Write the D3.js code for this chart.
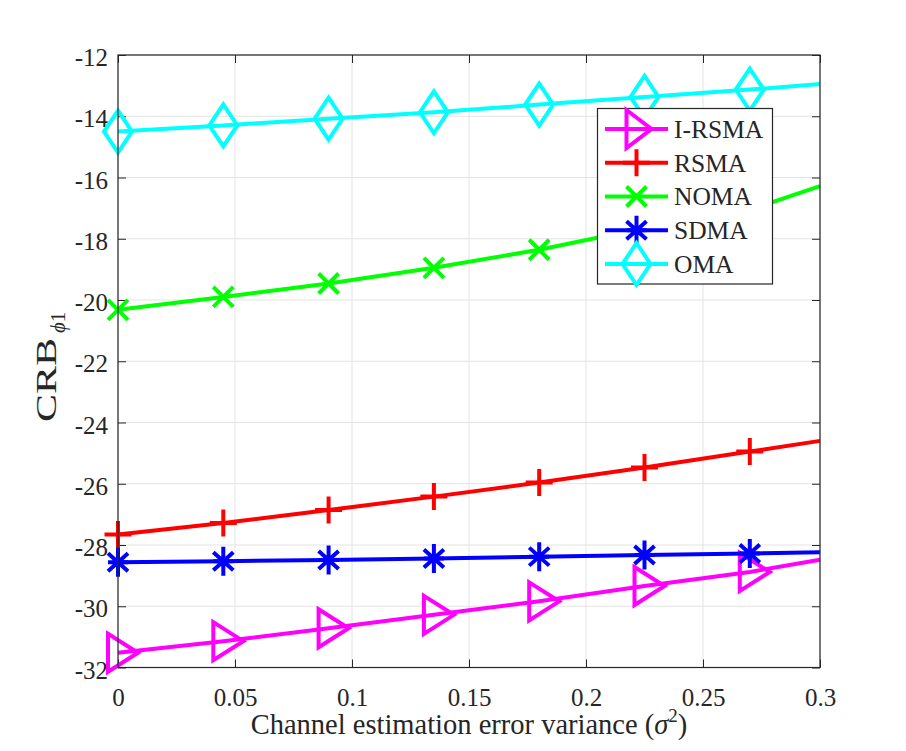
<!DOCTYPE html>
<html>
<head>
<meta charset="utf-8">
<script src="https://cdn.jsdelivr.net/npm/d3@7"></script>
<style>
html,body{margin:0;padding:0;background:#fff;}
text{font-family:"Liberation Serif","Times New Roman",serif;fill:#262626;}
</style>
</head>
<body>
<svg id="chart" width="906" height="751" font-family="Liberation Serif, serif"></svg>
<script>
// ---- data ----
const xValues = [0, 0.045, 0.09, 0.135, 0.18, 0.225, 0.27, 0.3];
const markerCount = 7; // markers on first 7 points
const seriesNames = ["I-RSMA", "RSMA", "NOMA", "SDMA", "OMA"];
const irsma = [-31.52, -31.14, -30.72, -30.28, -29.84, -29.34, -28.88, -28.48];
const rsma  = [-27.66, -27.28, -26.86, -26.42, -25.96, -25.47, -24.95, -24.60];
const noma  = [-20.32, -19.90, -19.46, -18.95, -18.36, -17.65, -17.05, -16.28];
const sdma  = [-28.56, -28.53, -28.49, -28.44, -28.38, -28.33, -28.28, -28.24];
const oma   = [-14.50, -14.30, -14.08, -13.87, -13.62, -13.37, -13.13, -12.95];
const seriesColors = ["#ff00ff", "#ff0000", "#00ff00", "#0000ff", "#00ffff"];
const seriesMarkers = ["triangle", "plus", "cross", "star", "diamond"];
const xTicks = [0, 0.05, 0.1, 0.15, 0.2, 0.25, 0.3];
const xTickLabels = ["0", "0.05", "0.1", "0.15", "0.2", "0.25", "0.3"];
const yTicks = [-32, -30, -28, -26, -24, -22, -20, -18, -16, -14, -12];
const xLabel = "Channel estimation error variance (";
const yLabel = "CRB";

const allSeries = [irsma, rsma, noma, sdma, oma];

// ---- layout ----
const FONT = '"Liberation Serif","Times New Roman",serif';
const L = 118, R = 820, T = 55, B = 667.5;
const svg = d3.select("#chart");
const x = d3.scaleLinear().domain([0, 0.3]).range([L, R]);
const y = d3.scaleLinear().domain([-32, -12]).range([B, T]);
const axisColor = "#262626";

svg.append("rect").attr("width", 906).attr("height", 751).attr("fill", "#fff");
svg.append("rect").attr("x", L).attr("y", T).attr("width", R - L).attr("height", B - T).attr("fill", "#fff");

// grid
const grid = svg.append("g");
grid.selectAll("line.gx").data(xTicks).join("line")
  .attr("x1", d => x(d)).attr("x2", d => x(d)).attr("y1", T).attr("y2", B)
  .attr("stroke", "#e3e3e3").attr("stroke-width", 1);
grid.selectAll("line.gy").data(yTicks).join("line")
  .attr("y1", d => y(d)).attr("y2", d => y(d)).attr("x1", L).attr("x2", R)
  .attr("stroke", "#e3e3e3").attr("stroke-width", 1);

// axes with inward ticks
const tickLen = 8;
const axB = svg.append("g").attr("transform", `translate(0,${B})`)
  .call(d3.axisBottom(x).tickValues(xTicks).tickSize(-tickLen).tickFormat((d, i) => xTickLabels[i]));
const axT = svg.append("g").attr("transform", `translate(0,${T})`)
  .call(d3.axisTop(x).tickValues(xTicks).tickSize(-tickLen).tickFormat(""));
const axL = svg.append("g").attr("transform", `translate(${L},0)`)
  .call(d3.axisLeft(y).tickValues(yTicks).tickSize(-tickLen).tickFormat(d => d));
const axR = svg.append("g").attr("transform", `translate(${R},0)`)
  .call(d3.axisRight(y).tickValues(yTicks).tickSize(-tickLen).tickFormat(""));
[axB, axT, axL, axR].forEach(a => {
  a.attr("font-family", FONT).attr("font-size", 25);
  a.select(".domain").remove();
  a.selectAll(".tick line").attr("stroke", axisColor).attr("stroke-width", 1);
  a.selectAll("text").attr("font-size", 25).attr("fill", axisColor)
    .attr("font-family", FONT);
});
axB.selectAll(".tick text").attr("dy", null).attr("y", 38);
axL.selectAll(".tick text").attr("dy", "0.42em").attr("x", -10);

// series lines
const line = d3.line().x((d, i) => x(xValues[i])).y(d => y(d));
const markerPath = {
  triangle: "M-10,-19L20,0L-10,19Z",
  plus: "M0,-13.5V13.5M-13.5,0H13.5",
  cross: "M-10,-10L10,10M-10,10L10,-10",
  star: "M0,-14.5V14.5M-10,0H10M-10,-9L10,9M-10,9L10,-9",
  diamond: "M0,-21L14,0L0,21L-14,0Z"
};
allSeries.forEach((s, k) => {
  const g = svg.append("g");
  g.append("path").datum(s).attr("d", line).attr("fill", "none")
    .attr("stroke", seriesColors[k]).attr("stroke-width", 4).attr("stroke-linejoin", "round");
  g.selectAll("path.m").data(s.slice(0, markerCount)).join("path")
    .attr("class", "m")
    .attr("transform", (d, i) => `translate(${x(xValues[i])},${y(d)})`)
    .attr("d", markerPath[seriesMarkers[k]])
    .attr("fill", "none").attr("stroke", seriesColors[k]).attr("stroke-width", 4)
    .attr("stroke-linejoin", "miter");
});

// box
svg.append("rect").attr("x", L).attr("y", T).attr("width", R - L).attr("height", B - T)
  .attr("fill", "none").attr("stroke", axisColor).attr("stroke-width", 1.2);

// axis labels
const xl = svg.append("text").attr("x", (L + R) / 2).attr("y", 734)
  .attr("text-anchor", "middle").attr("font-size", 28.5).attr("fill", axisColor).attr("font-family", FONT);
xl.append("tspan").text(xLabel);
xl.append("tspan").attr("font-style", "italic").text("σ");
xl.append("tspan").attr("font-size", 19).attr("dy", -12).text("2");
xl.append("tspan").attr("dy", 12).text(")");

const yl = svg.append("g").attr("transform", "translate(55.5,422) rotate(-90)").attr("font-family", FONT);
yl.append("text").attr("x", 0).attr("y", 0).attr("font-size", 28.5)
  .attr("textLength", 84).attr("lengthAdjust", "spacingAndGlyphs").attr("fill", axisColor).text(yLabel);
const ysub = yl.append("text").attr("x", 89).attr("y", 9).attr("font-size", 21).attr("fill", axisColor);
ysub.append("tspan").attr("font-style", "italic").text("ϕ");
ysub.append("tspan").text("1");

// legend
const lg = svg.append("g").attr("font-family", FONT);
lg.append("rect").attr("x", 597.5).attr("y", 108.5).attr("width", 175).attr("height", 175.5)
  .attr("fill", "#fff").attr("stroke", axisColor).attr("stroke-width", 1.2);
const legY = d3.scalePoint().domain(seriesNames).range([129, 264]);
seriesNames.forEach((n, k) => {
  const cy = legY(n);
  lg.append("line").attr("x1", 605).attr("x2", 668).attr("y1", cy).attr("y2", cy)
    .attr("stroke", seriesColors[k]).attr("stroke-width", 4);
  lg.append("path").attr("transform", `translate(636.5,${cy})`)
    .attr("d", seriesMarkers[k] === "triangle" ? "M-10,-19L15,0L-10,19Z" : markerPath[seriesMarkers[k]])
    .attr("fill", "none").attr("stroke", seriesColors[k]).attr("stroke-width", 4);
  lg.append("text").attr("x", 674).attr("y", cy).attr("dy", "0.35em")
    .attr("font-size", 25.5).attr("fill", "#000").text(n);
});
</script>
</body>
</html>
